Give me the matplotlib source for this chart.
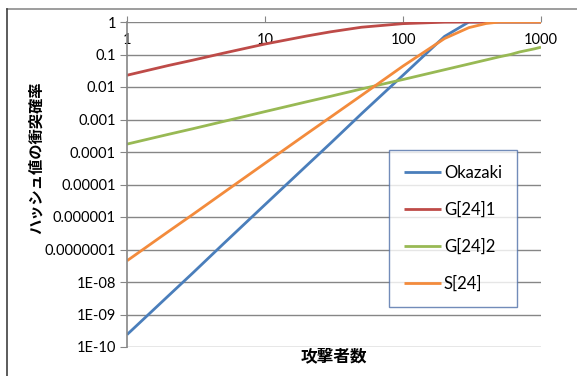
import numpy as np
import matplotlib.pyplot as plt
from matplotlib.lines import Line2D
from matplotlib.ticker import FixedLocator, FixedFormatter, NullLocator

plt.rcParams['font.family'] = ['Lato', 'Noto Sans CJK JP', 'DejaVu Sans']

# attackers
n = [1, 2, 3, 5, 10, 20, 30, 50, 100, 200, 300, 400, 500, 600, 700, 800, 900, 1000]

okazaki = [2.4e-10, 3.8e-9, 1.9e-8, 1.5e-7, 2.4e-6, 3.8e-5, 1.9e-4, 1.5e-3, 2.3e-2,
           0.36, 1, 1, 1, 1, 1, 1, 1, 1]
g24_1 = [0.023, 0.046, 0.067, 0.11, 0.21, 0.37, 0.50, 0.69, 0.89,
         0.99, 1, 1, 1, 1, 1, 1, 1, 1]
g24_2 = [1.75e-4, 3.5e-4, 5.2e-4, 8.7e-4, 1.75e-3, 3.5e-3, 5.2e-3, 8.7e-3, 1.7e-2,
         0.034, 0.051, 0.068, 0.085, 0.10, 0.12, 0.135, 0.15, 0.168]
s24 = [4.5e-8, 3.6e-7, 1.2e-6, 5.6e-6, 4.5e-5, 3.6e-4, 1.2e-3, 5.5e-3, 4.4e-2,
       0.31, 0.67, 0.90, 1, 1, 1, 1, 1, 1]

series = [('Okazaki', okazaki, '#4A7EBB'),
          ('G[24]1', g24_1, '#BE4B48'),
          ('G[24]2', g24_2, '#98B954'),
          ('S[24]', s24, '#F38B3C')]

ytick_vals = [1, 0.1, 0.01, 0.001, 1e-4, 1e-5, 1e-6, 1e-7, 1e-8, 1e-9, 1e-10]
ytick_labels = ['1', '0.1', '0.01', '0.001', '0.0001', '0.00001', '0.000001',
                '0.0000001', '1E-08', '1E-09', '1E-10']
xtick_vals = [1, 10, 100, 1000]
xtick_labels = ['1', '10', '100', '1000']

W, H = 577, 376
fig = plt.figure(figsize=(W / 100, H / 100), dpi=100)
ax = fig.add_axes([127 / W, 1 - 347 / H, (541 - 127) / W, (347 - 22) / H])

for label, vals, col in series:
    ax.plot(n, vals, color=col, lw=2.0, label=label, solid_capstyle='butt')

ax.set_xscale('log')
ax.set_yscale('log')
ax.set_xlim(1, 1000)
ax.set_ylim(1e-10, 1)

ax.yaxis.set_major_locator(FixedLocator(ytick_vals))
ax.yaxis.set_major_formatter(FixedFormatter(ytick_labels))
ax.yaxis.set_minor_locator(NullLocator())
ax.xaxis.set_major_locator(FixedLocator(xtick_vals))
ax.xaxis.set_major_formatter(FixedFormatter(xtick_labels))
ax.xaxis.set_minor_locator(NullLocator())

# x axis sits on the top line, labels hang down inside the plot
ax.xaxis.set_ticks_position('top')
ax.tick_params(axis='x', top=True, bottom=False, labeltop=True, labelbottom=False,
               direction='out', length=4, color='#868686', pad=-22, labelsize=10.5)
ax.tick_params(axis='y', direction='out', length=5, color='#868686', labelsize=10.5,
               pad=3)

ax.grid(axis='y', color='#868686', lw=1.0)
ax.set_axisbelow(True)
for s in ['top', 'right', 'bottom']:
    ax.spines[s].set_visible(False)
ax.spines['left'].set_color('#868686')
ax.spines['left'].set_linewidth(1.2)

leg = ax.legend(loc='upper left', bbox_to_anchor=((389 - 127) / 414, 1 - (150 - 22) / 325),
                frameon=True, fancybox=False, fontsize=12, handlelength=2.2,
                handletextpad=0.2, labelspacing=1.25, borderpad=0.9,
                borderaxespad=0)
leg.get_frame().set_edgecolor('#4F6FA8')
leg.get_frame().set_linewidth(1.0)

fig.text(37 / W, 1 - 158 / H, 'ハッシュ値の衝突確率', rotation=90, ha='center',
         va='center', fontsize=11, fontweight='bold')
fig.text(334 / W, 1 - 356 / H, '攻撃者数', ha='center', va='center',
         fontsize=12, fontweight='bold')

# outer chart frame
fig.add_artist(Line2D([7 / W, 1], [1 - 9 / H, 1 - 9 / H], color='#8c8c8c', lw=1.2))
fig.add_artist(Line2D([7 / W, 7 / W], [0, 1 - 9 / H], color='#404040', lw=1.2))

fig.savefig('out.png', dpi=100)
